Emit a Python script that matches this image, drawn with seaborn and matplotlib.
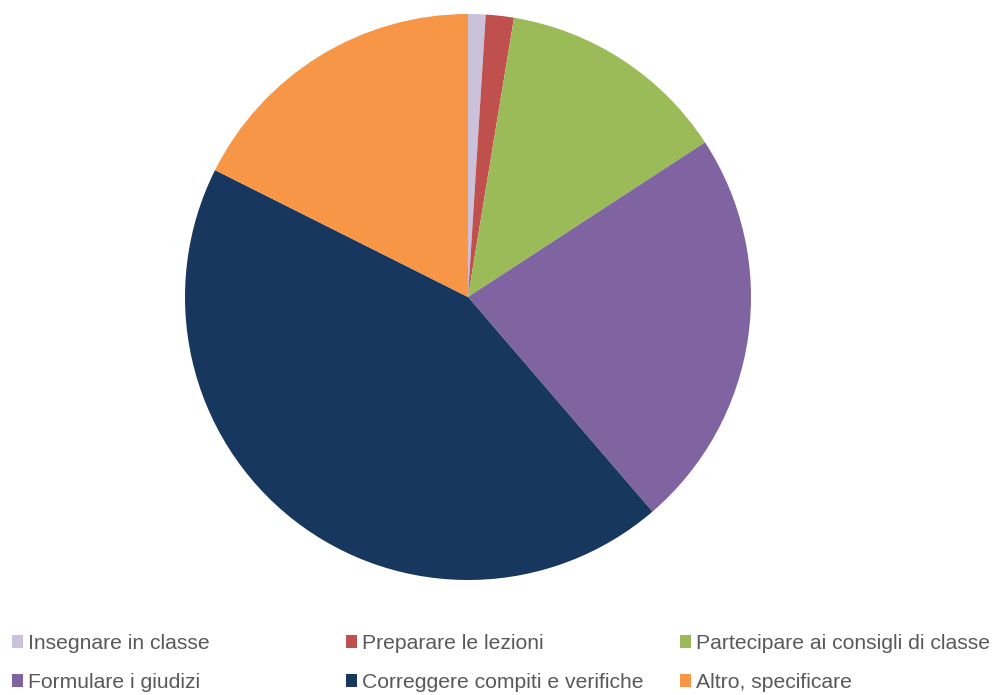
import seaborn as sns
import matplotlib.pyplot as plt
from matplotlib.patches import Patch

# Data (percent of total)
labels = ['Insegnare in classe', 'Preparare le lezioni', 'Partecipare ai consigli di classe',
          'Formulare i giudizi', 'Correggere compiti e verifiche', 'Altro, specificare']
values = [1.0, 1.6, 13.2, 22.9, 43.7, 17.6]
colors = ['#CCC1DA', '#C0504D', '#9BBB59', '#8064A2', '#17375E', '#F79646']

sns.set_theme(style="white")
plt.rcParams['font.family'] = ['Liberation Sans', 'DejaVu Sans']

W, H = 997, 695
fig = plt.figure(figsize=(W / 100, H / 100), dpi=100)

# pie: centre (468, 297), radius 283 px
ax = fig.add_axes([185 / W, 1 - 580 / H, 566 / W, 566 / H])
ax.pie(values, colors=colors, startangle=90, counterclock=False,
       wedgeprops=dict(linewidth=0))
ax.set_xlim(-1, 1)
ax.set_ylim(-1, 1)
ax.set_aspect('equal')
ax.axis('off')

# legend: three columns of two rows each
cols = [[0, 3], [1, 4], [2, 5]]
col_x = [12, 346, 680]
for idx, x in zip(cols, col_x):
    handles = [Patch(facecolor=colors[i], edgecolor='none') for i in idx]
    fig.legend(handles, [labels[i] for i in idx], loc='center left',
               bbox_to_anchor=(x / W, 1 - 663 / H), frameon=False,
               fontsize=15.2, handlelength=0.52, handleheight=0.52,
               handletextpad=0.24, labelspacing=0.95, borderpad=0,
               borderaxespad=0, labelcolor='#595959')

fig.savefig('out.png', dpi=100)
